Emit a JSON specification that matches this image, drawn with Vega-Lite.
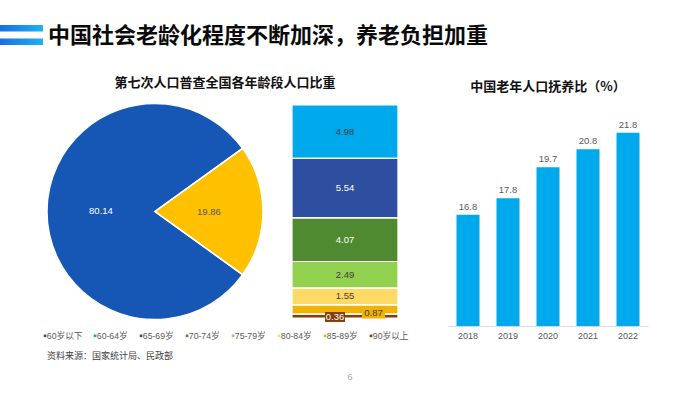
{
  "$schema": "https://vega.github.io/schema/vega-lite/v6.json",
  "padding": {"top": 24, "left": 0, "right": 0, "bottom": 0},
  "background": "white",
  "config": {
    "view": {"stroke": null},
    "font": "Liberation Sans, Noto Sans CJK SC, sans-serif",
    "title": {"font": "Noto Sans CJK SC", "fontSize": 13, "fontWeight": "bold", "color": "#111111", "offset": 11, "frame": "group"}
  },
  "datasets": {
    "pie": [
      {"age": "60岁以下", "share": 80.14},
      {"age": "60岁及以上", "share": 19.86}
    ],
    "ages": [
      {"age": "60-64岁", "share": 4.98},
      {"age": "65-69岁", "share": 5.54},
      {"age": "70-74岁", "share": 4.07},
      {"age": "75-79岁", "share": 2.49},
      {"age": "80-84岁", "share": 1.55},
      {"age": "85-89岁", "share": 0.87},
      {"age": "90岁以上", "share": 0.36}
    ],
    "ratio": [
      {"year": "2018", "ratio": 16.8},
      {"year": "2019", "ratio": 17.8},
      {"year": "2020", "ratio": 19.7},
      {"year": "2021", "ratio": 20.8},
      {"year": "2022", "ratio": 21.8}
    ]
  },
  "spacing": 9,
  "vconcat": [
    {
      "spacing": 29,
      "vconcat": [
        {
          "spacing": 4,
          "hconcat": [
            {
              "width": 43,
              "height": 20,
              "data": {"values": [{"bar": "上"}, {"bar": "下"}]},
              "mark": {"type": "rect", "color": {"gradient": "linear", "x1": 0, "x2": 1, "y1": 0, "y2": 0, "stops": [{"offset": 0, "color": "#1a6fe0"}, {"offset": 1, "color": "#1cb2f0"}]}},
              "encoding": {"y": {"field": "bar", "type": "nominal", "sort": null, "scale": {"paddingInner": 0.52, "paddingOuter": 0}, "axis": null}}
            },
            {
              "width": 440,
              "height": 21,
              "data": {"values": [{"t": "中国社会老龄化程度不断加深，养老负担加重"}]},
              "mark": {"type": "text", "font": "Noto Sans CJK SC", "fontSize": 22, "fontWeight": "bold", "color": "#0a0a0a"},
              "encoding": {"text": {"field": "t"}}
            }
          ]
        },
        {
          "spacing": 48,
          "hconcat": [
            {
              "spacing": 26.5,
              "vconcat": [
                {
                  "width": 400,
                  "height": 213,
                  "title": {"text": "第七次人口普查全国各年龄段人口比重", "dx": 25},
                  "layer": [
                    {
                      "mark": {"type": "rule", "color": "#bfbfbf", "strokeWidth": 1},
                      "encoding": {
                        "x": {"datum": 22.62, "type": "quantitative", "scale": {"domain": [0, 37.3], "nice": false, "zero": false}, "axis": null},
                        "y": {"datum": 15.81, "type": "quantitative", "scale": {"domain": [0, 19.86], "nice": false, "zero": false}, "axis": null},
                        "x2": {"datum": 27.23},
                        "y2": {"datum": 19.86}
                      }
                    },
                    {
                      "mark": {"type": "rule", "color": "#bfbfbf", "strokeWidth": 1},
                      "encoding": {
                        "x": {"datum": 22.62, "type": "quantitative", "axis": null},
                        "y": {"datum": 4.05, "type": "quantitative", "axis": null},
                        "x2": {"datum": 27.23},
                        "y2": {"datum": 0}
                      }
                    },
                    {
                      "data": {"name": "pie"},
                      "mark": {"type": "arc", "outerRadius": 108},
                      "encoding": {
                        "x": {"datum": 14.45, "type": "quantitative", "axis": null},
                        "y": {"datum": 9.93, "type": "quantitative", "axis": null},
                        "theta": {"field": "share", "type": "quantitative", "stack": true, "scale": {"range": [0.9469, 7.2301]}},
                        "order": {"field": "age", "sort": "descending"},
                        "color": {
                          "condition": {"test": "datum.age === '60岁及以上'", "value": "#ffc000"},
                          "field": "age", "type": "nominal",
                          "scale": {"domain": ["60岁以下", "60-64岁", "65-69岁", "70-74岁", "75-79岁", "80-84岁", "85-89岁", "90岁以上"], "range": ["#1656b4", "#00a8ec", "#2e4f9f", "#4f8a31", "#92d050", "#ffd966", "#f0b400", "#843c0c"]}
                        }
                      }
                    },
                    {
                      "data": {"name": "pie"},
                      "mark": {"type": "arc", "outerRadius": 108, "fill": null, "stroke": "white", "strokeWidth": 1.5},
                      "encoding": {
                        "x": {"datum": 14.45, "type": "quantitative", "axis": null},
                        "y": {"datum": 9.93, "type": "quantitative", "axis": null},
                        "theta": {"field": "share", "type": "quantitative", "stack": true},
                        "order": {"field": "age", "sort": "descending"}
                      }
                    },
                    {
                      "data": {"name": "pie"},
                      "mark": {"type": "text", "radius": 54, "fontSize": 9.5},
                      "encoding": {
                        "x": {"datum": 14.45, "type": "quantitative", "axis": null},
                        "y": {"datum": 9.93, "type": "quantitative", "axis": null},
                        "theta": {"field": "share", "type": "quantitative", "stack": true},
                        "order": {"field": "age", "sort": "descending"},
                        "text": {"field": "share", "type": "quantitative", "format": ".2f"},
                        "color": {"condition": {"test": "datum.age === '60岁以下'", "value": "white"}, "value": "#595959"}
                      }
                    },
                    {
                      "data": {"name": "ages"},
                      "transform": [{"stack": "share", "groupby": [], "sort": [{"field": "age", "order": "descending"}], "as": ["y0", "y1"]}],
                      "mark": {"type": "rect"},
                      "encoding": {
                        "x": {"datum": 27.23, "type": "quantitative", "axis": null},
                        "x2": {"datum": 37.11},
                        "y": {"field": "y0", "type": "quantitative", "axis": null},
                        "y2": {"field": "y1"},
                        "color": {
                          "field": "age", "type": "nominal",
                          "scale": {"domain": ["60岁以下", "60-64岁", "65-69岁", "70-74岁", "75-79岁", "80-84岁", "85-89岁", "90岁以上"], "range": ["#1656b4", "#00a8ec", "#2e4f9f", "#4f8a31", "#92d050", "#ffd966", "#f0b400", "#843c0c"]},
                          "legend": {"orient": "none", "legendX": 40.7, "legendY": 306, "direction": "horizontal", "columns": 8, "title": null, "symbolType": "square", "symbolSize": 7, "symbolStrokeWidth": 0, "labelFontSize": 8.7, "labelColor": "#595959", "columnPadding": 8, "labelOffset": -2.6, "padding": 0}
                        }
                      }
                    },
                    {
                      "data": {"name": "ages"},
                      "transform": [{"stack": "share", "groupby": [], "sort": [{"field": "age", "order": "descending"}], "as": ["y0", "y1"]}],
                      "mark": {"type": "rect", "fill": null, "stroke": "white", "strokeWidth": 1.2},
                      "encoding": {
                        "x": {"datum": 27.23, "type": "quantitative", "axis": null},
                        "x2": {"datum": 37.11},
                        "y": {"field": "y0", "type": "quantitative", "axis": null},
                        "y2": {"field": "y1"}
                      }
                    },
                    {
                      "data": {"name": "ages"},
                      "transform": [
                        {"stack": "share", "groupby": [], "sort": [{"field": "age", "order": "descending"}], "as": ["y0", "y1"]},
                        {"calculate": "(datum.y0 + datum.y1) / 2", "as": "ym"},
                        {"filter": "datum.share > 1"}
                      ],
                      "mark": {"type": "text", "fontSize": 9.5},
                      "encoding": {
                        "x": {"datum": 32.17, "type": "quantitative", "axis": null},
                        "y": {"field": "ym", "type": "quantitative", "axis": null},
                        "text": {"field": "share", "type": "quantitative", "format": ".2f"},
                        "color": {"condition": {"test": "datum.age === '65-69岁' || datum.age === '70-74岁'", "value": "white"}, "value": "#404040"}
                      }
                    },
                    {
                      "data": {"name": "ages"},
                      "transform": [{"filter": "datum.age === '90岁以上'"}],
                      "mark": {"type": "rect"},
                      "encoding": {
                        "x": {"datum": 30.31, "type": "quantitative", "axis": null},
                        "x2": {"datum": 32.17},
                        "y": {"datum": 0.56, "type": "quantitative", "axis": null},
                        "y2": {"datum": -0.37},
                        "color": {"field": "age", "type": "nominal"}
                      }
                    },
                    {
                      "data": {"name": "ages"},
                      "transform": [{"filter": "datum.age === '85-89岁'"}],
                      "mark": {"type": "rect"},
                      "encoding": {
                        "x": {"datum": 33.76, "type": "quantitative", "axis": null},
                        "x2": {"datum": 35.9},
                        "y": {"datum": 0.89, "type": "quantitative", "axis": null},
                        "y2": {"datum": -0.05},
                        "color": {"field": "age", "type": "nominal"}
                      }
                    },
                    {
                      "data": {"name": "ages"},
                      "transform": [{"filter": "datum.age === '90岁以上'"}],
                      "mark": {"type": "text", "fontSize": 9.5, "color": "white"},
                      "encoding": {
                        "x": {"datum": 31.24, "type": "quantitative", "axis": null},
                        "y": {"datum": 0.09, "type": "quantitative", "axis": null},
                        "text": {"field": "share", "type": "quantitative", "format": ".2f"}
                      }
                    },
                    {
                      "data": {"name": "ages"},
                      "transform": [{"filter": "datum.age === '85-89岁'"}],
                      "mark": {"type": "text", "fontSize": 9.5, "color": "#404040"},
                      "encoding": {
                        "x": {"datum": 34.83, "type": "quantitative", "axis": null},
                        "y": {"datum": 0.45, "type": "quantitative", "axis": null},
                        "text": {"field": "share", "type": "quantitative", "format": ".2f"}
                      }
                    }
                  ]
                },
                {
                  "width": 220,
                  "height": 12,
                  "data": {"values": [{"s": "资料来源：国家统计局、民政部"}]},
                  "mark": {"type": "text", "font": "Noto Sans CJK SC", "fontSize": 9, "color": "#404040"},
                  "encoding": {"text": {"field": "s"}}
                }
              ]
            },
            {
              "width": 200,
              "height": 221,
              "title": {"text": "中国老年人口抚养比（%）"},
              "data": {"name": "ratio"},
              "encoding": {
                "x": {"field": "year", "type": "ordinal", "scale": {"paddingInner": 0.425, "paddingOuter": 0.2125},
                      "axis": {"title": null, "labelAngle": 0, "ticks": false, "domainColor": "#d9d9d9", "domainWidth": 1, "labelColor": "#595959", "labelFontSize": 9, "labelPadding": 5, "grid": false}}
              },
              "layer": [
                {
                  "mark": {"type": "bar", "color": "#00a8ec"},
                  "encoding": {
                    "y": {"field": "ratio", "type": "quantitative", "scale": {"domain": [10, 23.5], "nice": false, "zero": false}, "axis": null},
                    "y2": {"datum": 10}
                  }
                },
                {
                  "mark": {"type": "text", "baseline": "bottom", "dy": -3, "fontSize": 9.5, "color": "#595959"},
                  "encoding": {
                    "y": {"field": "ratio", "type": "quantitative", "axis": null},
                    "text": {"field": "ratio", "type": "quantitative", "format": ".1f"}
                  }
                }
              ]
            }
          ]
        }
      ]
    },
    {
      "width": 700,
      "height": 12,
      "data": {"values": [{"p": "6"}]},
      "mark": {"type": "text", "fontSize": 9, "color": "#a6a6a6"},
      "encoding": {"text": {"field": "p"}}
    }
  ]
}
